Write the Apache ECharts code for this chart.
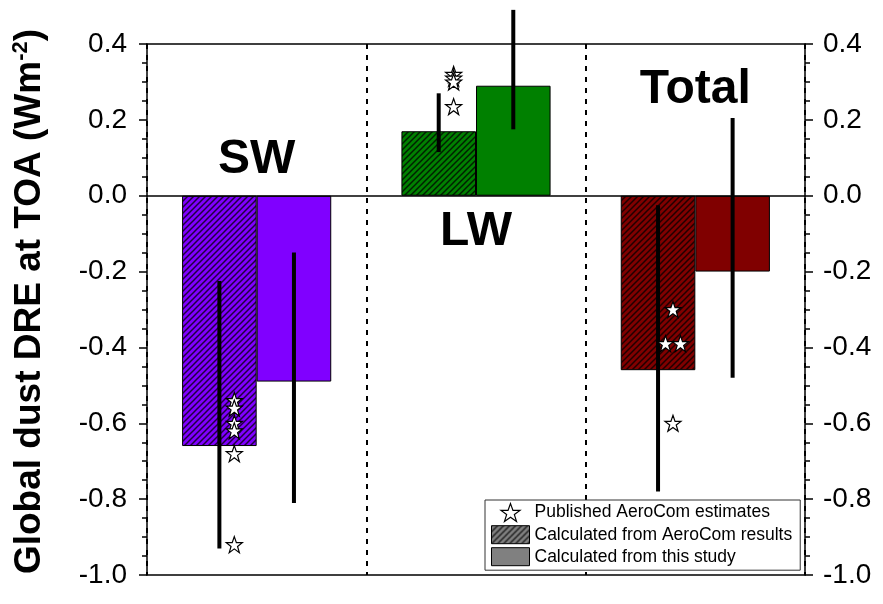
<!DOCTYPE html>
<html>
<head>
<meta charset="utf-8">
<script src="https://cdn.jsdelivr.net/npm/echarts@6/dist/echarts.min.js"></script>
<style>
  html, body { margin: 0; padding: 0; background: #fff; }
  #chart { width: 883px; height: 604px; }
</style>
</head>
<body>
<div id="chart"></div>
<script>
// Global dust direct radiative effect at TOA, per spectral band
const categories = ['SW', 'LW', 'Total'];
const bandColors = ['#8000ff', '#008000', '#800000'];

// Bar heights (W m-2)
const aerocomValues = [-0.66, 0.17, -0.46];   // calculated from AeroCom results
const studyValues = [-0.49, 0.29, -0.20];     // calculated from this study

// Uncertainty ranges drawn as vertical bars
const aerocomLow = [-0.93, 0.115, -0.78];
const aerocomHigh = [-0.225, 0.27, -0.025];
const studyLow = [-0.81, 0.175, -0.48];
const studyHigh = [-0.15, 0.49, 0.205];

// Published AeroCom estimates per band
const publishedSW = [-0.54, -0.56, -0.60, -0.62, -0.68, -0.92];
const publishedLW = [0.32, 0.31, 0.30, 0.235];
const publishedTotal = [-0.30, -0.39, -0.39, -0.60];

// Y axis
const yMin = -1.0, yMax = 0.4, yStep = 0.2;

const FONT = "'Liberation Sans', Arial, Helvetica, sans-serif";
const STAR = 'path://M50,2L62.5,36.5L98,36.5L69.5,57.5L80.5,93L50,71.5L19.5,93L30.5,57.5L2,36.5L37.5,36.5Z';

// Diagonal hatch fill on a given base colour
function hatch(base) {
  const s = 6;
  const c = document.createElement('canvas');
  c.width = s; c.height = s;
  const g = c.getContext('2d');
  g.fillStyle = base;
  g.fillRect(0, 0, s, s);
  g.strokeStyle = 'rgba(0,0,0,0.75)';
  g.lineWidth = 1.5;
  g.beginPath();
  g.moveTo(-1, 1); g.lineTo(1, -1);
  g.moveTo(0, s); g.lineTo(s, 0);
  g.moveTo(s - 1, s + 1); g.lineTo(s + 1, s - 1);
  g.stroke();
  return { image: c, repeat: 'repeat' };
}

// Bars on a category axis; everything else on a parallel value axis 0..3
const barWidthUnits = 0.34;          // fraction of one category
const groupGap = (1 - 2 * barWidthUnits);
const aerocomCenter = i => i + 0.5 - barWidthUnits / 2;
const studyCenter = i => i + 0.5 + barWidthUnits / 2;
const starShift = 0.068;
const dupSpread = 0.034;

const errorData = [];
categories.forEach((c, i) => {
  errorData.push([aerocomCenter(i), aerocomLow[i], aerocomHigh[i]]);
  errorData.push([studyCenter(i), studyLow[i], studyHigh[i]]);
});

const starData = [];
[publishedSW, publishedLW, publishedTotal].forEach((list, i) => {
  const x0 = aerocomCenter(i) + starShift;
  list.forEach((v, k) => {
    const same = list.filter(w => w === v).length;
    let x = x0;
    if (same > 1) {
      const order = list.slice(0, k).filter(w => w === v).length;
      x = x0 + (order - (same - 1) / 2) * 2 * dupSpread;
    }
    starData.push([x, v]);
  });
});

const bandLabelLevel = [0.095, -0.095, 0.28];
const bandLabelData = categories.map((c, i) => [i + 0.5, bandLabelLevel[i], c]);

const grayHatch = hatch('#808080');

const chart = echarts.init(document.getElementById('chart'), null, { renderer: 'canvas' });

const yAxisCommon = {
  type: 'value', min: yMin, max: yMax, interval: yStep,
  axisLine: { show: true, lineStyle: { color: '#000', width: 1.5 } },
  axisTick: { show: true, inside: false, length: 8, lineStyle: { color: '#000', width: 1.5 } },
  minorTick: { show: true, splitNumber: 4, length: 5, lineStyle: { color: '#000', width: 1.5 } },
  splitLine: { show: false },
  axisLabel: {
    color: '#000', fontFamily: FONT, fontSize: 28,
    formatter: v => v.toFixed(1)
  }
};

chart.setOption({
  animation: false,
  backgroundColor: '#fff',
  grid: { left: 147, right: 78, top: 44, bottom: 29, containLabel: false, outerBoundsMode: 'none' },
  xAxis: [
    {
      type: 'category', data: categories, position: 'bottom',
      axisLine: { show: true, onZero: false, lineStyle: { color: '#000', width: 1.5 } },
      axisTick: { show: false }, axisLabel: { show: false }, splitLine: { show: false }
    },
    {
      type: 'value', min: 0, max: 3, interval: 1, position: 'top',
      axisLine: { show: true, onZero: false, lineStyle: { color: '#000', width: 1.5 } },
      axisTick: { show: false }, axisLabel: { show: false },
      splitLine: { show: true, lineStyle: { color: '#000', width: 2, type: [5, 6] } }
    }
  ],
  yAxis: [
    Object.assign({}, yAxisCommon, {
      position: 'left',
      axisLabel: Object.assign({}, yAxisCommon.axisLabel, { margin: 20 }),
      name: '{t|Global dust DRE at TOA (Wm}{s|-2}{t|)}',
      nameLocation: 'middle', nameGap: 98, nameRotate: 90,
      nameTextStyle: {
        padding: [0, 0, 0, 16],
        rich: {
          t: { fontFamily: FONT, fontSize: 37, fontWeight: 'bold', color: '#000' },
          s: { fontFamily: FONT, fontSize: 22, fontWeight: 'bold', color: '#000', verticalAlign: 'top', padding: [0, 0, 17, 0] }
        }
      }
    }),
    Object.assign({}, yAxisCommon, {
      position: 'right',
      axisLabel: Object.assign({}, yAxisCommon.axisLabel, { margin: 18 })
    })
  ],
  legend: {
    orient: 'vertical', left: 485, top: 500,
    padding: [3, 8, 4, 6], itemGap: 3, itemWidth: 38, itemHeight: 18,
    borderColor: '#333', borderWidth: 1, backgroundColor: '#fff',
    textStyle: { fontFamily: FONT, fontSize: 17.5, color: '#000', padding: [0, 0, 0, 0] },
    selectedMode: false,
    data: [
      { name: 'Published AeroCom estimates', icon: STAR,
        itemStyle: { color: '#fff', borderColor: '#000', borderWidth: 1.2 } },
      { name: 'Calculated from AeroCom results', icon: 'rect',
        itemStyle: { color: grayHatch, borderColor: '#000', borderWidth: 1 } },
      { name: 'Calculated from this study', icon: 'rect',
        itemStyle: { color: '#808080', borderColor: '#000', borderWidth: 1 } }
    ]
  },
  series: [
    {
      name: 'Calculated from AeroCom results', type: 'bar',
      xAxisIndex: 0, yAxisIndex: 0,
      barCategoryGap: (groupGap * 100) + '%', barGap: '0%',
      data: aerocomValues.map((v, i) => ({
        value: v, itemStyle: { color: hatch(bandColors[i]), borderColor: '#000', borderWidth: 1 }
      })),
      z: 2,
      markLine: {
        silent: true, symbol: 'none', label: { show: false },
        lineStyle: { color: '#000', width: 1.5, type: 'solid' },
        data: [{ yAxis: 0 }]
      }
    },
    {
      name: 'Calculated from this study', type: 'bar',
      xAxisIndex: 0, yAxisIndex: 0,
      barCategoryGap: (groupGap * 100) + '%', barGap: '0%',
      data: studyValues.map((v, i) => ({
        value: v, itemStyle: { color: bandColors[i], borderColor: '#000', borderWidth: 1 }
      })),
      z: 2
    },
    {
      name: 'uncertainty', type: 'custom',
      xAxisIndex: 1, yAxisIndex: 0, z: 4, clip: false,
      data: errorData,
      renderItem: (params, api) => {
        const x = api.value(0);
        const p1 = api.coord([x, api.value(1)]);
        const p2 = api.coord([x, api.value(2)]);
        return {
          type: 'line',
          shape: { x1: p1[0], y1: p1[1], x2: p2[0], y2: p2[1] },
          style: { stroke: '#000', lineWidth: 4 }
        };
      }
    },
    {
      name: 'Published AeroCom estimates', type: 'scatter',
      xAxisIndex: 1, yAxisIndex: 0, z: 5,
      symbol: STAR, symbolSize: 16,
      itemStyle: { color: '#fff', borderColor: '#000', borderWidth: 1.2, opacity: 1 },
      data: starData
    },
    {
      name: 'band names', type: 'custom',
      xAxisIndex: 1, yAxisIndex: 0, z: 6, clip: false, silent: true,
      data: bandLabelData,
      renderItem: (params, api) => {
        const p = api.coord([api.value(0), api.value(1)]);
        return {
          type: 'text', x: p[0], y: p[1],
          style: {
            text: categories[params.dataIndex],
            fill: '#000', fontFamily: FONT, fontSize: 48, fontWeight: 'bold',
            align: 'center', verticalAlign: 'middle',
            textAlign: 'center', textVerticalAlign: 'middle'
          }
        };
      }
    }
  ]
});
</script>
</body>
</html>
